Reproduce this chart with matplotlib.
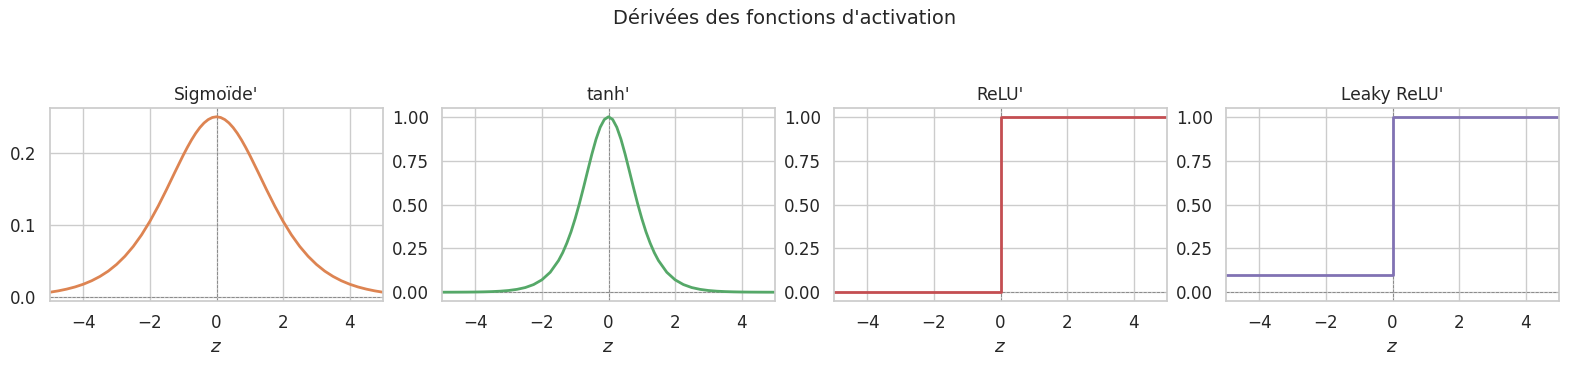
import matplotlib
matplotlib.use("Agg")
import matplotlib.pyplot as plt
import seaborn as sns

# values (z from -5 to 5)
z_sig = [-5.0, -4.75, -4.5, -4.25, -4.0, -3.75, -3.5, -3.25, -3.0, -2.75, -2.5, -2.25,
         -2.0, -1.75, -1.5, -1.25, -1.0, -0.875, -0.75, -0.625, -0.5, -0.375, -0.25, -0.125, 0.0,
         0.125, 0.25, 0.375, 0.5, 0.625, 0.75, 0.875, 1.0, 1.25, 1.5, 1.75, 2.0, 2.25, 2.5, 2.75,
         3.0, 3.25, 3.5, 3.75, 4.0, 4.25, 4.5, 4.75, 5.0]
sigmoid_d = [0.0066, 0.0085, 0.0109, 0.0139, 0.0177, 0.0225, 0.0285, 0.0359, 0.0452, 0.0565, 0.0701, 0.0862,
             0.1050, 0.1261, 0.1491, 0.1731, 0.1966, 0.2076, 0.2179, 0.2271, 0.2350, 0.2414, 0.2461, 0.2490, 0.2500,
             0.2490, 0.2461, 0.2414, 0.2350, 0.2271, 0.2179, 0.2076, 0.1966, 0.1731, 0.1491, 0.1261, 0.1050, 0.0862, 0.0701, 0.0565,
             0.0452, 0.0359, 0.0285, 0.0225, 0.0177, 0.0139, 0.0109, 0.0085, 0.0066]

z_tanh = [-5.0, -4.75, -4.5, -4.25, -4.0, -3.75, -3.5, -3.25, -3.0, -2.75, -2.5, -2.25, -2.0, -1.75,
          -1.5, -1.375, -1.25, -1.125, -1.0, -0.875, -0.75, -0.625, -0.5, -0.375, -0.25, -0.125, 0.0,
          0.125, 0.25, 0.375, 0.5, 0.625, 0.75, 0.875, 1.0, 1.125, 1.25, 1.375, 1.5,
          1.75, 2.0, 2.25, 2.5, 2.75, 3.0, 3.25, 3.5, 3.75, 4.0, 4.25, 4.5, 4.75, 5.0]
tanh_d = [0.0002, 0.0003, 0.0005, 0.0008, 0.0013, 0.0022, 0.0036, 0.0060, 0.0099, 0.0163, 0.0266, 0.0436, 0.0707, 0.1138,
          0.1807, 0.2256, 0.2804, 0.3445, 0.4200, 0.5045, 0.5966, 0.6924, 0.7864, 0.8716, 0.9400, 0.9845, 1.0,
          0.9845, 0.9400, 0.8716, 0.7864, 0.6924, 0.5966, 0.5045, 0.4200, 0.3445, 0.2804, 0.2256, 0.1807,
          0.1138, 0.0707, 0.0436, 0.0266, 0.0163, 0.0099, 0.0060, 0.0036, 0.0022, 0.0013, 0.0008, 0.0005, 0.0003, 0.0002]

z_step = [-5.0, 0.0, 0.0, 5.0]
relu_d = [0.0, 0.0, 1.0, 1.0]
leaky_d = [0.1, 0.1, 1.0, 1.0]

titles = ["Sigmoïde'", "tanh'", "ReLU'", "Leaky ReLU'"]
series = [(z_sig, sigmoid_d), (z_tanh, tanh_d), (z_step, relu_d), (z_step, leaky_d)]
sig_ticks = [0.0, 0.1, 0.2]
unit_ticks = [0.0, 0.25, 0.5, 0.75, 1.0]

sns.set_theme(style="whitegrid", font_scale=1.1)
colors = sns.color_palette("deep")
line_colors = [colors[1], colors[2], colors[3], colors[4]]

fig = plt.figure(figsize=(15.69, 3.67), dpi=100)
lefts = [50, 442, 834, 1226]
for i, (z, d) in enumerate(series):
    ax = fig.add_axes([lefts[i] / 1569, 1 - 301 / 367, 333 / 1569, 193 / 367])
    # reference lines first so the curves sit on top
    ax.axhline(0, color="gray", linestyle="--", linewidth=0.6)
    ax.axvline(0, color="gray", linestyle="--", linewidth=0.6)
    ax.plot(z, d, color=line_colors[i], linewidth=2)
    ax.set_xlim(-5, 5)
    if i == 0:
        ax.set_ylim(min(d) - 0.05 * (max(d) - min(d)), max(d) + 0.05 * (max(d) - min(d)))
        ax.set_yticks(sig_ticks)
    else:
        ax.set_ylim(-0.05, 1.05)
        ax.set_yticks(unit_ticks)
    ax.set_title(titles[i], fontsize=12.3)
    ax.set_xlabel("$z$")

fig.suptitle("Dérivées des fonctions d'activation", fontsize=14, y=0.975)
fig.savefig("out.png", dpi=100)
